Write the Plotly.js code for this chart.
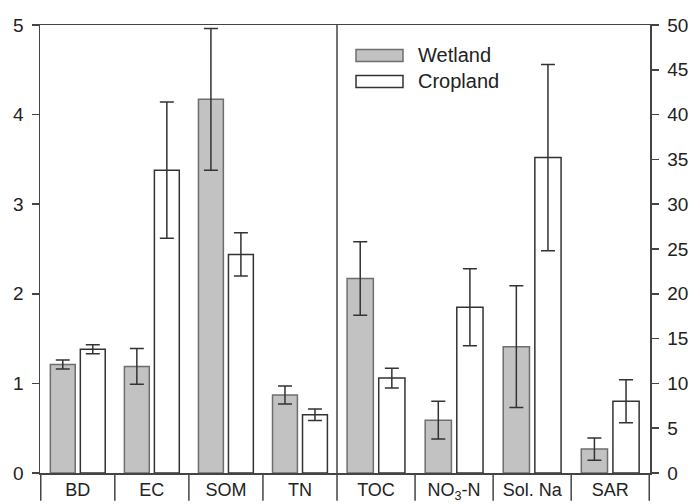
<!DOCTYPE html>
<html>
<head>
<meta charset="utf-8">
<script src="https://cdn.plot.ly/plotly-3.0.1.min.js"></script>
<style>html,body{margin:0;padding:0;background:#fff;}#chart{width:692px;height:504px;}</style>
</head>
<body>
<div id="chart"></div>
<script>
// Left panel (left axis, 0-5)
const catsLeft = ["BD", "EC", "SOM", "TN"];
const wetlandLeft = [1.21, 1.19, 4.17, 0.87];
const wetlandLeftErr = [0.05, 0.20, 0.79, 0.10];
const croplandLeft = [1.38, 3.38, 2.44, 0.65];
const croplandLeftErr = [0.05, 0.76, 0.24, 0.065];

// Right panel (right axis, 0-50)
const catsRight = ["TOC", "NO<sub>3</sub>-N", "Sol. Na", "SAR"];
const wetlandRight = [21.7, 5.9, 14.1, 2.67];
const wetlandRightErr = [4.1, 2.1, 6.8, 1.25];
const croplandRight = [10.6, 18.5, 35.2, 8.0];
const croplandRightErr = [1.1, 4.3, 10.4, 2.4];

const leftTicks = [0, 1, 2, 3, 4, 5];
const rightTicks = [0, 5, 10, 15, 20, 25, 30, 35, 40, 45, 50];
const seriesNames = ["Wetland", "Cropland"];

const FONT = "Liberation Sans, Arial, sans-serif";
const TXT = "#222";
const AX = "#444";

const wetStyle = {color: "#c2c2c2", line: {color: "#6e6e6e", width: 1.5}};
const cropStyle = {color: "#ffffff", line: {color: "#333333", width: 1.5}};
const errStyle = (arr) => ({type: "data", array: arr, visible: true, color: "#333", thickness: 1.5, width: 7});

const traces = [
  {type: "bar", name: seriesNames[0], x: catsLeft, y: wetlandLeft, error_y: errStyle(wetlandLeftErr),
   marker: wetStyle, xaxis: "x", yaxis: "y"},
  {type: "bar", name: seriesNames[1], x: catsLeft, y: croplandLeft, error_y: errStyle(croplandLeftErr),
   marker: cropStyle, xaxis: "x", yaxis: "y"},
  {type: "bar", name: seriesNames[0], x: catsRight, y: wetlandRight, error_y: errStyle(wetlandRightErr),
   marker: wetStyle, xaxis: "x2", yaxis: "y2"},
  {type: "bar", name: seriesNames[1], x: catsRight, y: croplandRight, error_y: errStyle(croplandRightErr),
   marker: cropStyle, xaxis: "x2", yaxis: "y2"}
];

const PL = 40, PW = 610, PB = 473, PH = 448;
const px = v => (v - PL) / PW;
const py = v => (PB - v) / PH;
const split = px(337);
const below = -0.062;

function divider(xref, xv) {
  return {type: "line", xref: xref, yref: "paper", x0: xv, x1: xv, y0: 0, y1: below,
          line: {color: AX, width: 1.5}};
}
const shapes = [];
[-0.5, 0.5, 1.5, 2.5].forEach(v => shapes.push(divider("x", v)));
[0.5, 1.5, 2.5, 3.5].forEach(v => shapes.push(divider("x2", v)));
shapes.push({type: "line", xref: "paper", yref: "paper", x0: split, x1: split, y0: below, y1: 1,
             line: {color: AX, width: 1.5}});

// Legend (drawn as swatches + labels)
const legendSwatch = [
  {fill: wetStyle.color, line: wetStyle.line.color, top: 49.5, bottom: 61.5},
  {fill: cropStyle.color, line: cropStyle.line.color, top: 75.5, bottom: 87.5}
];
const annotations = [];
legendSwatch.forEach((s, i) => {
  shapes.push({type: "rect", xref: "paper", yref: "paper", x0: px(356), x1: px(403),
               y0: py(s.bottom), y1: py(s.top), fillcolor: s.fill, line: {color: s.line, width: 1.5}});
  annotations.push({xref: "paper", yref: "paper", x: px(416), y: py((s.top + s.bottom) / 2),
                    xanchor: "left", yanchor: "middle", showarrow: false, text: seriesNames[i],
                    font: {family: FONT, size: 20, color: TXT}});
});

const xCommon = {
  type: "category", showline: true, linecolor: AX, linewidth: 1.5, mirror: true,
  ticks: "", showgrid: false, zeroline: false, fixedrange: true,
  tickfont: {family: FONT, size: 18, color: TXT}, ticklabelstandoff: 0
};

const layout = {
  width: 692, height: 504,
  margin: {l: 40, r: 42, t: 25, b: 31, pad: 0},
  paper_bgcolor: "#fff", plot_bgcolor: "#fff",
  barmode: "group", bargap: 0.19, bargroupgap: 0.17,
  font: {family: FONT, color: TXT},
  xaxis: Object.assign({}, xCommon, {domain: [0, split], anchor: "y"}),
  xaxis2: Object.assign({}, xCommon, {domain: [split, 1], anchor: "y2"}),
  yaxis: {
    range: [0, 5], tickvals: leftTicks, ticktext: leftTicks.map(String),
    showline: true, linecolor: AX, linewidth: 1.5, ticks: "outside", ticklen: 7, tickwidth: 1.5, tickcolor: AX,
    showgrid: false, zeroline: false, anchor: "x", side: "left",
    tickfont: {family: FONT, size: 19, color: TXT}, ticklabelstandoff: 4
  },
  yaxis2: {
    range: [0, 50], tickvals: rightTicks, ticktext: rightTicks.map(String),
    showline: true, linecolor: AX, linewidth: 1.5, ticks: "outside", ticklen: 7, tickwidth: 1.5, tickcolor: AX,
    showgrid: false, zeroline: false, anchor: "x2", side: "right",
    tickfont: {family: FONT, size: 19, color: TXT}, ticklabelstandoff: 5
  },
  showlegend: false,
  shapes: shapes,
  annotations: annotations
};

Plotly.newPlot("chart", traces, layout, {displayModeBar: false, staticPlot: true});
</script>
</body>
</html>
